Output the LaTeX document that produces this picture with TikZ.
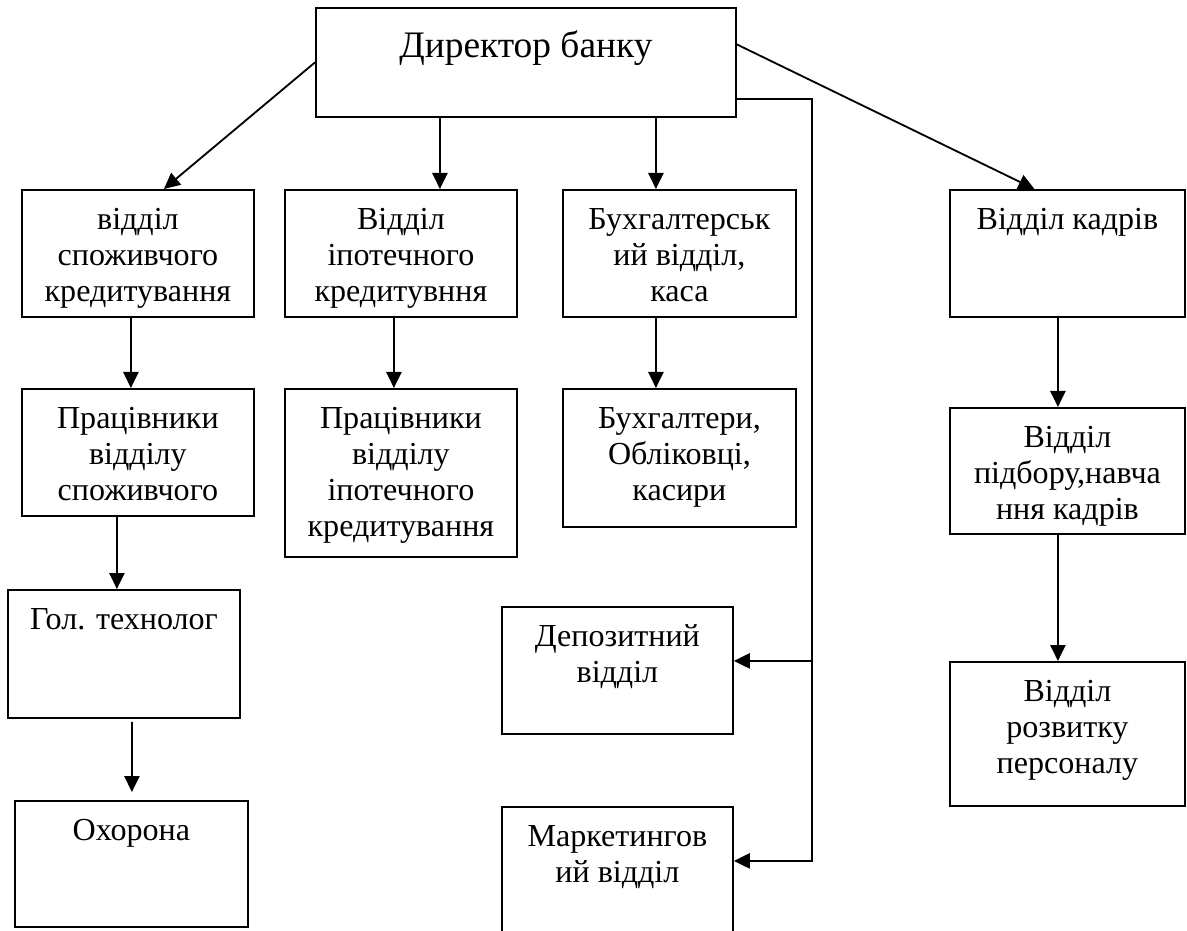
\documentclass[tikz,border=0pt]{standalone}
\usepackage{fontspec}
\setmainfont{Liberation Serif}
\usetikzlibrary{arrows.meta, calc}
\newlength\px
\setlength\px{0.025cm}
\newcommand\cell[4][40]{\begin{minipage}[t][#3\px][t]{#2\px}\centering\rule{0pt}{#1\px}#4\end{minipage}}

\begin{document}
\begin{tikzpicture}[x=0.025cm, y=-0.025cm,
    unit/.style={draw, line width=1.3pt, inner sep=0pt, anchor=north west, font=\fontsize{22.8}{25.6}\selectfont},
    link/.style={line width=1.3pt, -{Triangle[length=0.4cm, width=0.38cm]}}]
  \clip (0,0) rectangle (1187,931);
  % top level
  \node[unit] (dir) at (315,7) {\cell[50]{420}{109}{\fontsize{26.6}{32}\selectfont Директор банку}};
  % first row
  \node[unit] (cons) at (21,189) {\cell{232}{127}{відділ\\споживчого\\кредитування}};
  \node[unit] (mort) at (284,189) {\cell{232}{127}{Відділ\\іпотечного\\кредитувння}};
  \node[unit] (acct) at (562,189) {\cell{233}{127}{Бухгалтерськ\\ий відділ,\\каса}};
  \node[unit] (hr) at (949,189) {\cell{235}{127}{Відділ кадрів}};
  % second row
  \node[unit] (consstaff) at (21,388) {\cell{232}{127}{Працівники\\відділу\\споживчого}};
  \node[unit] (mortstaff) at (284,388) {\cell{232}{168}{Працівники\\відділу\\іпотечного\\кредитування}};
  \node[unit] (clerks) at (562,388) {\cell{233}{138}{Бухгалтери,\\Обліковці,\\касири}};
  \node[unit] (hire) at (949,407) {\cell{235}{126}{Відділ\\підбору,навча\\ння кадрів}};
  % lower boxes
  \node[unit] (tech) at (7,589) {\cell{232}{128}{Гол. технолог}};
  \node[unit] (guard) at (14,800) {\cell{233}{126}{Охорона}};
  \node[unit] (dep) at (501,606) {\cell{231}{127}{Депозитний\\відділ}};
  \node[unit] (mkt) at (501,806) {\cell{231}{127}{Маркетингов\\ий відділ}};
  \node[unit] (grow) at (949,661) {\cell{235}{144}{Відділ\\розвитку\\персоналу}};
  % links from the director
  \coordinate (d2) at ($(mort.north)+(39,0)$);
  \coordinate (d3) at ($(acct.north)+(-23.5,0)$);
  \draw[link] (dir.west) -- ($(cons.north)+(26,0)$);
  \draw[link] (dir.south -| d2) -- (d2);
  \draw[link] (dir.south -| d3) -- (d3);
  \draw[link] ($(dir.east)+(0,-18)$) -- ($(hr.north)+(-33,0)$);
  \draw[link] ($(dir.east)+(0,36.5)$) -| ($(mkt.east)+(78,-9.5)$) -- ($(mkt.east)+(0,-9.5)$);
  \draw[link] ($(dep.east)+(78,-9.5)$) -- ($(dep.east)+(0,-9.5)$);
  % links down the columns
  \draw[link] ($(cons.south)+(-7,0)$) -- ($(consstaff.north)+(-7,0)$);
  \draw[link] ($(consstaff.south)+(-21,0)$) -- ($(tech.north)+(-7,0)$);
  \draw[link] ($(tech.south)+(8,3)$) -- ($(guard.north)+(0.5,-8)$);
  \draw[link] ($(mort.south)+(-7,0)$) -- ($(mortstaff.north)+(-7,0)$);
  \draw[link] ($(acct.south)+(-23.5,0)$) -- ($(clerks.north)+(-23.5,0)$);
  \draw[link] ($(hr.south)+(-9.5,0)$) -- ($(hire.north)+(-9.5,0)$);
  \draw[link] ($(hire.south)+(-9.5,0)$) -- ($(grow.north)+(-9.5,0)$);
\end{tikzpicture}
\end{document}
